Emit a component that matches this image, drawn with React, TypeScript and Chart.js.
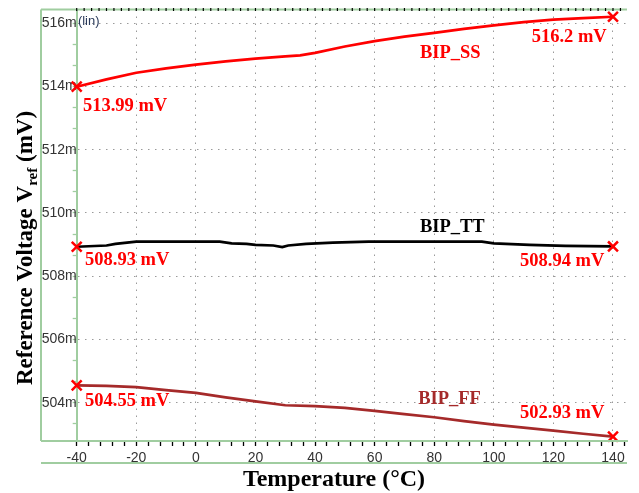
import React, { useEffect, useRef } from 'react';
import { Chart, registerables } from 'chart.js';

Chart.register(...registerables);

// ---- Data ----
const tempsSS = [-40, -30, -20, -10, 0, 10, 20, 30, 35, 40, 50, 60, 70, 80, 90, 100, 110, 120, 130, 140];
const bipSS = [513.99, 514.22, 514.43, 514.57, 514.69, 514.79, 514.88, 514.95, 514.98, 515.06, 515.26, 515.43, 515.57, 515.69, 515.82, 515.93, 516.03, 516.11, 516.16, 516.2];

const tempsTT = [-40, -30, -27, -20, 8, 12, 17, 20, 26, 29, 31, 37, 46, 58, 96, 100, 112, 124, 140];
const bipTT = [508.93, 508.97, 509.02, 509.09, 509.09, 509.04, 509.02, 508.99, 508.97, 508.92, 508.97, 509.02, 509.06, 509.09, 509.09, 509.04, 508.99, 508.96, 508.94];

const tempsFF = [-40, -30, -20, -10, 0, 10, 20, 30, 40, 50, 60, 70, 80, 90, 100, 110, 120, 130, 140];
const bipFF = [504.55, 504.53, 504.49, 504.40, 504.31, 504.17, 504.04, 503.92, 503.89, 503.84, 503.74, 503.64, 503.54, 503.42, 503.31, 503.21, 503.12, 503.02, 502.93];

const xMin = -40;
const xMax = 144.7;
const yMin = 502.79;
const yMax = 516.43;

const xTickValues = Array.from({ length: 47 }, (_, k) => -40 + 4 * k);
const yTickValues = Array.from({ length: 20 }, (_, k) => 504 + (2 * (k - 1)) / 3);

const labelTexts = ['513.99 mV', '516.2 mV', 'BIP_SS', 'BIP_TT', '508.93 mV', '508.94 mV', '504.55 mV', 'BIP_FF', '502.93 mV'];
const labelTemps = [-37.9, 112.7, 75.2, 75.2, -37.2, 108.8, -37.2, 74.6, 108.8];
const labelVolts = [513.22, 515.39, 514.9, 509.41, 508.34, 508.32, 503.9, 503.96, 503.51];
const labelColors = ['#ff0000', '#ff0000', '#ff0000', '#000000', '#ff0000', '#ff0000', '#ff0000', '#a52a2a', '#ff0000'];

const GREEN = 'rgb(160,205,160)';
const GRID = '#9a9a9a';
const SERIF = "'Liberation Serif', 'Times New Roman', serif";
const SANS = "'Liberation Sans', Arial, sans-serif";

const isMajorX = (v: number) => Math.abs(v % 20) < 1e-6;
const isMajorY = (v: number) => Math.abs(v - Math.round(v)) < 1e-6 && Math.round(v) % 2 === 0;

const decorPlugin = {
  id: 'decor',
  afterDraw(chart: any) {
    const { ctx, chartArea } = chart;
    const x = chart.scales.x;
    const y = chart.scales.y;
    const left = y.left;
    const right = chartArea.right;
    const top = chartArea.top;
    const bottom = chartArea.bottom;
    const lower = x.bottom;
    ctx.save();
    ctx.strokeStyle = GREEN;
    ctx.lineWidth = 2;
    const seg = (x1: number, y1: number, x2: number, y2: number) => {
      ctx.beginPath();
      ctx.moveTo(x1, y1);
      ctx.lineTo(x2, y2);
      ctx.stroke();
    };
    seg(left, top, left, bottom);
    seg(left, top, right, top);
    seg(left, bottom, right, bottom);
    seg(left, lower, right, lower);
    // top tick marks
    ctx.strokeStyle = '#000';
    ctx.lineWidth = 1.2;
    for (let t = -40; t <= xMax; t += 2.5) {
      const px = x.getPixelForValue(t);
      seg(px, top - 1.5, px, top + 1.5);
    }
    // (lin)
    ctx.fillStyle = '#2a3a5a';
    ctx.font = `13px ${SANS}`;
    ctx.textAlign = 'left';
    ctx.textBaseline = 'alphabetic';
    ctx.fillText('(lin)', x.getPixelForValue(-39.6), y.getPixelForValue(515.93));
    // annotations
    ctx.font = `bold 18.5px ${SERIF}`;
    for (let i = 0; i < labelTexts.length; i++) {
      ctx.fillStyle = labelColors[i];
      ctx.fillText(labelTexts[i], x.getPixelForValue(labelTemps[i]), y.getPixelForValue(labelVolts[i]));
    }
    // x title
    ctx.fillStyle = '#000';
    ctx.font = `bold 24px ${SERIF}`;
    ctx.textAlign = 'center';
    ctx.fillText('Temperature (°C)', (left + right) / 2, 486);
    // y title with subscript
    ctx.translate(32, 248);
    ctx.rotate(-Math.PI / 2);
    ctx.textAlign = 'left';
    const f1 = `bold 23px ${SERIF}`;
    const f2 = `bold 15px ${SERIF}`;
    const p1 = 'Reference Voltage V';
    const p2 = 'ref';
    const p3 = ' (mV)';
    ctx.font = f1;
    const w1 = ctx.measureText(p1).width;
    const w3 = ctx.measureText(p3).width;
    ctx.font = f2;
    const w2 = ctx.measureText(p2).width;
    let xx = -(w1 + w2 + w3) / 2;
    ctx.font = f1;
    ctx.fillText(p1, xx, 0);
    xx += w1;
    ctx.font = f2;
    ctx.fillText(p2, xx, 5);
    xx += w2;
    ctx.font = f1;
    ctx.fillText(p3, xx, 0);
    ctx.restore();
  },
};

const endRadius = (ctx: any) => {
  const n = ctx.dataset.data.length;
  return ctx.dataIndex === 0 || ctx.dataIndex === n - 1 ? 7 : 0;
};

const mkDataset = (temps: number[], vals: number[], color: string) => ({
  data: temps.map((t, i) => ({ x: t, y: vals[i] })),
  borderColor: color,
  borderWidth: 2.7,
  pointStyle: 'crossRot',
  pointRadius: endRadius,
  pointHoverRadius: endRadius,
  pointBorderColor: '#ff0000',
  pointBackgroundColor: '#ff0000',
  pointBorderWidth: 2.5,
  tension: 0,
  clip: false,
});

export default function App() {
  const ref = useRef<HTMLCanvasElement | null>(null);
  useEffect(() => {
    if (!ref.current) return;
    const chart = new Chart(ref.current, {
      type: 'line',
      data: {
        datasets: [
          mkDataset(tempsSS, bipSS, '#ff0000'),
          mkDataset(tempsTT, bipTT, '#000000'),
          mkDataset(tempsFF, bipFF, '#a52a2a'),
        ] as any,
      },
      options: {
        responsive: false,
        animation: false,
        devicePixelRatio: 1,
        layout: { padding: { left: 41, right: 12, top: 8, bottom: 30 } },
        plugins: { legend: { display: false }, tooltip: { enabled: false } },
        scales: {
          x: {
            type: 'linear',
            min: xMin,
            max: xMax,
            afterBuildTicks: (scale: any) => {
              scale.ticks = xTickValues.map((v) => ({ value: v }));
            },
            afterFit: (scale: any) => {
              scale.height = 22;
            },
            ticks: {
              autoSkip: false,
              maxRotation: 0,
              padding: 4,
              color: '#333',
              font: { family: SANS, size: 14 },
              callback: (v: any) => (isMajorX(Number(v)) ? String(v) : ''),
            },
            grid: {
              color: (c: any) => (c.tick && isMajorX(c.tick.value) && c.tick.value !== -40 ? GRID : 'rgba(0,0,0,0)'),
              lineWidth: 1,
              tickColor: '#000',
              tickLength: 5,
              tickWidth: 1.3,
            },
            border: { color: GREEN, width: 2, dash: [1.5, 5.5] },
          },
          y: {
            type: 'linear',
            min: yMin,
            max: yMax,
            afterBuildTicks: (scale: any) => {
              scale.ticks = yTickValues.map((v) => ({ value: v }));
            },
            afterFit: (scale: any) => {
              scale.width = 35.7;
            },
            ticks: {
              autoSkip: false,
              padding: -4,
              color: '#333',
              font: { family: SANS, size: 14 },
              callback: (v: any) => (isMajorY(Number(v)) ? `${Math.round(Number(v))}m` : ''),
            },
            grid: {
              color: (c: any) => (c.tick && isMajorY(c.tick.value) ? GRID : 'rgba(0,0,0,0)'),
              lineWidth: 1,
              tickColor: GREEN,
              tickLength: 4,
              tickWidth: 1.3,
            },
            border: { color: GREEN, width: 2, dash: [1.5, 5.5] },
          },
        },
      } as any,
      plugins: [decorPlugin],
    });
    return () => chart.destroy();
  }, []);
  return (
    <div style={{ position: 'absolute', left: 0, top: 0, width: 639, height: 493, background: '#fff' }}>
      <canvas ref={ref} width={639} height={493} style={{ display: 'block' }} />
    </div>
  );
}
